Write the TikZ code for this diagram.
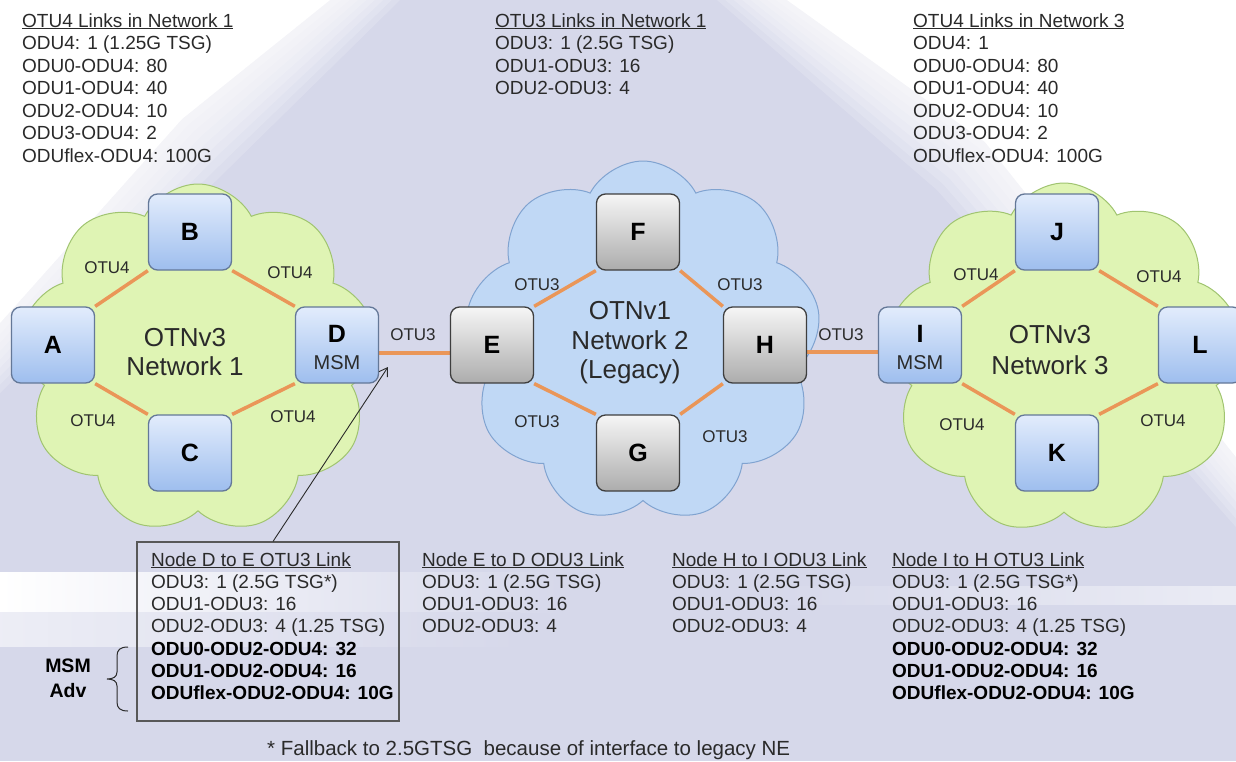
\documentclass[tikz,border=0pt]{standalone}
\usepackage{fontspec}
\setmainfont{Liberation Sans}
\usetikzlibrary{shapes.symbols,arrows.meta,calc}
\pgfdeclarelayer{back}
\pgfsetlayers{back,main}

\definecolor{bglav}{RGB}{214,216,234}
\definecolor{greenfill}{RGB}{223,244,180}
\definecolor{greenline}{RGB}{160,196,112}
\definecolor{bluefill}{RGB}{192,216,245}
\definecolor{blueline}{RGB}{128,163,208}
\definecolor{nodeblueT}{RGB}{226,236,252}
\definecolor{nodeblueB}{RGB}{158,190,238}
\definecolor{nodeblueE}{RGB}{100,120,152}
\definecolor{nodegrayT}{RGB}{246,246,246}
\definecolor{nodegrayB}{RGB}{172,172,172}
\definecolor{nodegrayE}{RGB}{62,62,62}
\definecolor{linkor}{RGB}{234,150,88}
\definecolor{txt}{RGB}{42,42,42}
\definecolor{boxline}{RGB}{88,88,88}

\newcommand{\bl}[1]{{\color{black}\bfseries #1}}

\begin{document}
\begin{tikzpicture}[x=1pt,y=-1pt,
  lbl/.style={anchor=base west, inner sep=0pt, font=\fontsize{19}{22}\selectfont, text=txt},
  linklbl/.style={inner sep=0pt, font=\fontsize{17}{19}\selectfont, text=txt},
  nettitle/.style={anchor=base, inner sep=0pt, font=\fontsize{26}{30}\selectfont, text=txt},
  nbox/.style={rounded corners=9pt, minimum width=83pt, minimum height=76pt, line width=1.3pt,
    inner sep=0pt, font=\fontsize{25}{28}\selectfont\bfseries, text=black},
  bluebox/.style={nbox, draw=nodeblueE, top color=nodeblueT, bottom color=nodeblueB},
  graybox/.style={nbox, draw=nodegrayE, top color=nodegrayT, bottom color=nodegrayB},
  letter/.style={inner sep=0pt, font=\fontsize{25}{28}\selectfont\bfseries, text=black},
  msm/.style={inner sep=0pt, font=\fontsize{20}{22}\selectfont, text=txt},
  link/.style={draw=linkor, line width=3.5pt},
  cloudbase/.style={cloud, cloud puffs=9, cloud puff arc=125, line width=1pt, inner sep=0pt},
  greencloud/.style={cloudbase, draw=greenline, fill=greenfill},
  bluecloud/.style={cloudbase, draw=blueline, fill=bluefill},
  arr/.style={-{Straight Barb[length=8pt,width=10pt]}, draw=txt, line width=0.9pt}
]
\useasboundingbox (0,0) rectangle (1236,761);

\begin{pgfonlayer}{back}
  % backdrop: lavender pyramid with soft light corners
  \fill[bglav] (0,0) rectangle (1236,761);
  \foreach \d in {0,6,...,42} {
    \fill[white, opacity=0.17] (0,0) -- ({400-\d*1.4},0) -- ({230-\d},{167-\d}) -- (0,{393-\d*1.4}) -- cycle;
    \fill[white, opacity=0.17] ({717+\d*1.4},0) -- (1236,0) -- (1236,{527-\d*1.4}) -- ({937+\d},{190-\d}) -- cycle;
  }
  \fill[white] (0,0) -- (330,0) -- (182,119) -- (0,323) -- cycle;
  \fill[white] (787,0) -- (1236,0) -- (1236,457) -- (985,142) -- cycle;
  \shade[left color=white, right color=bglav] (0,572) rectangle (560,612);
  \shade[left color=white!55!bglav, right color=bglav] (0,612) rectangle (520,646);
  \shade[left color=bglav, right color=white!50!bglav] (760,586) rectangle (1236,604);

  % network clouds
  \node[greencloud, minimum width=356pt, minimum height=350pt] (cloudL) at (198,359) {};
  \node[bluecloud, minimum width=356pt, minimum height=362pt] (cloudC) at (643,342) {};
  \node[greencloud, minimum width=354pt, minimum height=352pt] (cloudR) at (1064,359) {};
\end{pgfonlayer}

% network elements
\node[bluebox] (A) at (53,345) {A};
\node[bluebox] (B) at (190,232) {B};
\node[bluebox] (C) at (190,453) {C};
\node[bluebox] (D) at (337,345) {};
\node[letter] (Dl) at ([yshift=11pt]D.center) {D};
\node[msm] (Dm) at ([yshift=-18pt]D.center) {MSM};

\node[graybox] (E) at (492,345) {E};
\node[graybox] (F) at (638,232) {F};
\node[graybox] (G) at (638,453) {G};
\node[graybox] (H) at (765,345) {H};

\node[bluebox] (I) at (920,345) {};
\node[letter] (Il) at ([yshift=11pt]I.center) {I};
\node[msm] (Im) at ([yshift=-18pt]I.center) {MSM};
\node[bluebox] (J) at (1057,232) {J};
\node[bluebox] (K) at (1057,453) {K};
\node[bluebox] (L) at (1200,345) {L};

% links
\begin{pgfonlayer}{back}
  \draw[link] (A.north east) -- (B.south west);
  \draw[link] (B.south east) -- (D.north west);
  \draw[link] (A.south east) -- (C.north west);
  \draw[link] (C.north east) -- (D.south west);
  \draw[link] ([yshift=-8pt]D.east) -- ([yshift=-8pt]E.west);
  \draw[link] (E.north east) -- (F.south west);
  \draw[link] (F.south east) -- (H.north west);
  \draw[link] (E.south east) -- (G.north west);
  \draw[link] (G.north east) -- (H.south west);
  \draw[link] ([yshift=-7pt]H.east) -- ([yshift=-7pt]I.west);
  \draw[link] (I.north east) -- (J.south west);
  \draw[link] (J.south east) -- (L.north west);
  \draw[link] (I.south east) -- (K.north west);
  \draw[link] (K.north east) -- (L.south west);
\end{pgfonlayer}

% link labels
\node[linklbl] (lab1) at (107,268) {OTU4};
\node[linklbl] (lab2) at (290,273) {OTU4};
\node[linklbl] (lab3) at (93,421) {OTU4};
\node[linklbl] (lab4) at (293,417) {OTU4};
\node[linklbl] (lab5) at (413,335) {OTU3};
\node[linklbl] (lab6) at (537,285) {OTU3};
\node[linklbl] (lab7) at (740,285) {OTU3};
\node[linklbl] (lab8) at (537,422) {OTU3};
\node[linklbl] (lab9) at (725,437) {OTU3};
\node[linklbl] (lab10) at (841,335) {OTU3};
\node[linklbl] (lab11) at (976,275) {OTU4};
\node[linklbl] (lab12) at (1159,277) {OTU4};
\node[linklbl] (lab13) at (962,425) {OTU4};
\node[linklbl] (lab14) at (1163,421) {OTU4};

% network titles
\node[nettitle] (t1a) at (185,346) {OTNv3};
\node[nettitle] (t1b) at (185,375) {Network 1};
\node[nettitle] (t2a) at (630,319) {OTNv1};
\node[nettitle] (t2b) at (630,349) {Network 2};
\node[nettitle] (t2c) at (630,378) {(Legacy)};
\node[nettitle] (t3a) at (1050,343) {OTNv3};
\node[nettitle] (t3b) at (1050,374) {Network 3};

% link capacity tables
\foreach \t [count=\i] in {\underline{OTU4 Links in Network 1}, ODU4: 1 (1.25G TSG), ODU0-ODU4: 80,
    ODU1-ODU4: 40, ODU2-ODU4: 10, ODU3-ODU4: 2, ODUflex-ODU4: 100G}
  \node[lbl] (ta\i) at (22,{27+22.5*(\i-1)}) {\t};
\foreach \t [count=\i] in {\underline{OTU3 Links in Network 1}, ODU3: 1 (2.5G TSG), ODU1-ODU3: 16,
    ODU2-ODU3: 4}
  \node[lbl] (tb\i) at (495,{27+22.5*(\i-1)}) {\t};
\foreach \t [count=\i] in {\underline{OTU4 Links in Network 3}, ODU4: 1, ODU0-ODU4: 80,
    ODU1-ODU4: 40, ODU2-ODU4: 10, ODU3-ODU4: 2, ODUflex-ODU4: 100G}
  \node[lbl] (tc\i) at (913,{27+22.5*(\i-1)}) {\t};

\foreach \t [count=\i] in {\underline{Node D to E OTU3 Link}, ODU3: 1 (2.5G TSG*), ODU1-ODU3: 16,
    ODU2-ODU3: 4 (1.25 TSG), \bl{ODU0-ODU2-ODU4: 32}, \bl{ODU1-ODU2-ODU4: 16},
    \bl{ODUflex-ODU2-ODU4: 10G}}
  \node[lbl] (bd\i) at (151,{566+22.3*(\i-1)}) {\t};
\foreach \t [count=\i] in {\underline{Node E to D ODU3 Link}, ODU3: 1 (2.5G TSG), ODU1-ODU3: 16,
    ODU2-ODU3: 4}
  \node[lbl] (be\i) at (422,{566+22.3*(\i-1)}) {\t};
\foreach \t [count=\i] in {\underline{Node H to I ODU3 Link}, ODU3: 1 (2.5G TSG), ODU1-ODU3: 16,
    ODU2-ODU3: 4}
  \node[lbl] (bh\i) at (672,{566+22.3*(\i-1)}) {\t};
\foreach \t [count=\i] in {\underline{Node I to H OTU3 Link}, ODU3: 1 (2.5G TSG*), ODU1-ODU3: 16,
    ODU2-ODU3: 4 (1.25 TSG), \bl{ODU0-ODU2-ODU4: 32}, \bl{ODU1-ODU2-ODU4: 16},
    \bl{ODUflex-ODU2-ODU4: 10G}}
  \node[lbl] (bi\i) at (892,{566+22.3*(\i-1)}) {\t};

% callout box and pointer to node D
\node[draw=boxline, line width=1.1pt, minimum width=262pt, minimum height=179pt, inner sep=0pt]
  (boxDE) at (268,631.5) {};
\coordinate (tipD) at (388,367);
\draw[arr] ($(boxDE.north west)!0.519!(boxDE.north east)$) -- (tipD);

% MSM advertisement brace
\node[inner sep=0pt, anchor=base, font=\fontsize{19.5}{22}\selectfont\bfseries, text=black] (msm1) at (68,672) {MSM};
\node[inner sep=0pt, anchor=base, font=\fontsize{19.5}{22}\selectfont\bfseries, text=black] (msm2) at (68,697) {Adv};
\draw[txt, line width=1pt] (128,647) .. controls (120,647) and (117,650) .. (117,656) -- (117,672)
  .. controls (117,677) and (113,679) .. (107,679) .. controls (113,679) and (117,681) .. (117,686)
  -- (117,702) .. controls (117,708) and (120,711) .. (128,711);

% footnote
\node[inner sep=0pt, anchor=base west, font=\fontsize{20.5}{23}\selectfont, text=txt] (foot) at (267,755)
  {* Fallback to 2.5GTSG\ \ because of interface to legacy NE};
\end{tikzpicture}
\end{document}
